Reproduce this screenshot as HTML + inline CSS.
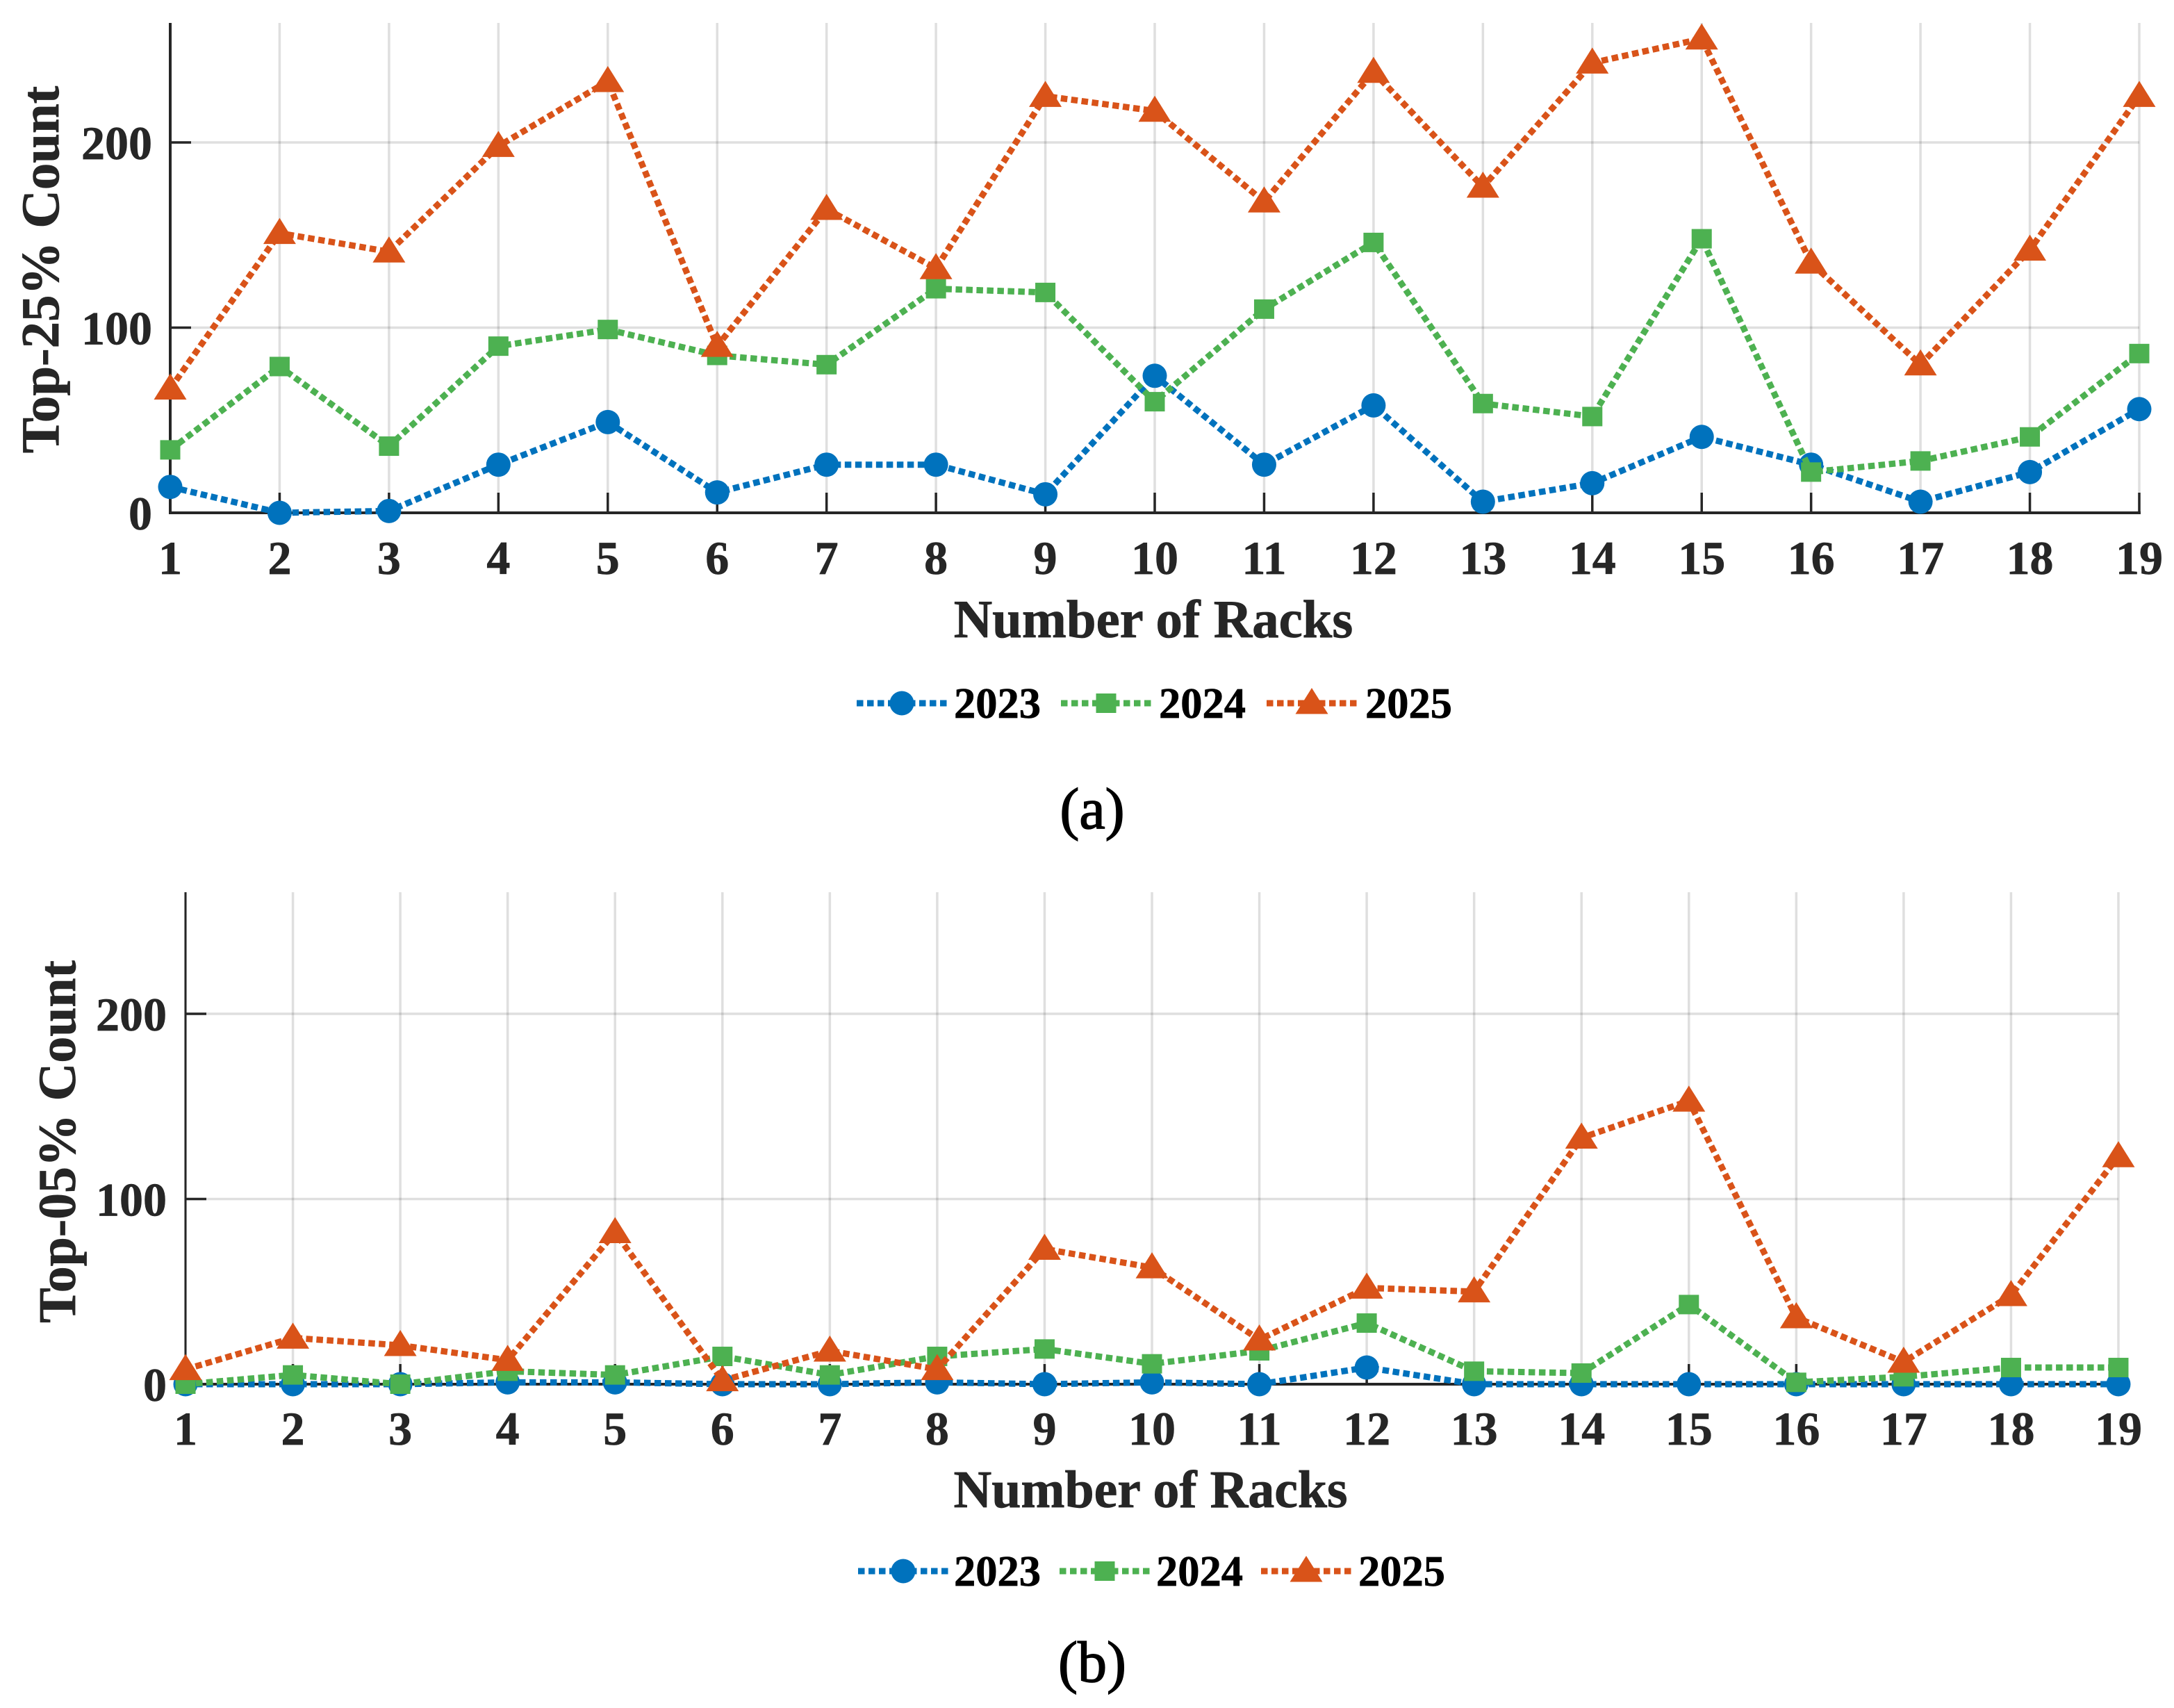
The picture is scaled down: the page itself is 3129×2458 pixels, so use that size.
<!DOCTYPE html>
<html lang="en">
<head>
<meta charset="utf-8">
<title>Top-25% and Top-05% Count by Number of Racks</title>
<style>
html,body{margin:0;padding:0;background:#fff;width:3129px;height:2458px;overflow:hidden}
svg{display:block}
text{font-family:"Liberation Serif",serif;font-weight:700;fill:#262626}
</style>
</head>
<body>
<svg id="chart" xmlns="http://www.w3.org/2000/svg" width="3129" height="2458" viewBox="0 0 3129 2458"></svg>
<script>
const categories = [1,2,3,4,5,6,7,8,9,10,11,12,13,14,15,16,17,18,19];
const yTicks = [0,100,200];
const seriesNames = ['2023','2024','2025'];

const top25Values2023 = [14,0,1,26,49,11,26,26,10,74,26,58,6,16,41,26,6,22,56];
const top25Values2024 = [34,79,36,90,99,85,80,121,119,60,110,146,59,52,148,22,28,41,86];
const top25Values2025 = [67,151,141,198,233,90,164,132,225,217,168,238,176,243,256,135,80,142,225];

const top05Values2023 = [0,0,0,1,1,0,0,1,0,1,0,9,0,0,0,0,0,0,0];
const top05Values2024 = [0,5,0,7,5,15,5,15,19,11,18,33,7,6,43,1,4,9,9];
const top05Values2025 = [8,25,21,13,82,2,18,8,73,63,24,52,50,133,153,36,12,48,123];

const colors = {'2023':'#0072BD','2024':'#4DB151','2025':'#D95319'};
const svg = document.getElementById('chart');
const NS = 'http://www.w3.org/2000/svg';

function make(parent, tag, attrs, content) {
  const el = document.createElementNS(NS, tag);
  for (const k in attrs) el.setAttribute(k, attrs[k]);
  if (content !== undefined) el.textContent = content;
  parent.appendChild(el);
  return el;
}

function drawMarker(parent, year, cx, cy, name) {
  let el;
  if (year === '2023') {
    el = make(parent, 'circle', {cx: cx, cy: cy, r: 17.5, fill: colors[year]});
  } else if (year === '2024') {
    el = make(parent, 'rect', {x: cx - 14.5, y: cy - 14, width: 29, height: 28, fill: colors[year]});
  } else {
    el = make(parent, 'polygon', {points: (cx) + ',' + (cy - 22) + ' ' + (cx + 23.5) + ',' + (cy + 15.5) + ' ' + (cx - 23.5) + ',' + (cy + 15.5), fill: colors[year]});
  }
  
  
  return el;
}

function drawPanel(cfg, seriesValues) {
  const g = make(svg, 'g', {});
  
  

  const xScale = v => cfg.x0 + (v - categories[0]) * (cfg.x1 - cfg.x0) / (categories[categories.length - 1] - categories[0]);
  const yScale = v => cfg.y0 - v * (cfg.y0 - cfg.y200) / 200;
  const yTop = cfg.top;

  categories.forEach(c => {
    const line = make(g, 'line', {x1: xScale(c), x2: xScale(c), y1: yTop, y2: cfg.y0, stroke: '#262626', 'stroke-opacity': 0.15, 'stroke-width': 3.5});
    
    
  });
  yTicks.filter(t => t > 0).forEach(t => {
    const line = make(g, 'line', {x1: cfg.x0, x2: cfg.x1, y1: yScale(t), y2: yScale(t), stroke: '#262626', 'stroke-opacity': 0.15, 'stroke-width': 3.5});
    
    
  });

  const yAxis = make(g, 'line', {x1: cfg.x0, x2: cfg.x0, y1: yTop, y2: cfg.y0 + 2, stroke: '#262626', 'stroke-width': cfg.axisWidth});
  
  
  const xAxis = make(g, 'line', {x1: cfg.x0 - 2, x2: cfg.x1 + 2, y1: cfg.y0, y2: cfg.y0, stroke: '#262626', 'stroke-width': 4});
  
  

  categories.forEach(c => {
    const tick = make(g, 'line', {x1: xScale(c), x2: xScale(c), y1: cfg.y0, y2: cfg.y0 - 29, stroke: '#262626', 'stroke-width': 3.5});
    
    
    const label = make(g, 'text', {x: xScale(c), y: cfg.xTickY, 'font-size': 68, 'text-anchor': 'middle', stroke: '#262626', 'stroke-width': 0.7}, String(c));
    
    
  });
  yTicks.forEach(t => {
    const tick = make(g, 'line', {x1: cfg.x0, x2: cfg.x0 + 30, y1: yScale(t), y2: yScale(t), stroke: '#262626', 'stroke-width': 3.5});
    
    
    const label = make(g, 'text', {x: cfg.yTickX, y: yScale(t) + 24, 'font-size': 68, 'text-anchor': 'end', stroke: '#262626', 'stroke-width': 0.7}, String(t));
    
    
  });

  seriesNames.forEach((year, i) => {
    const vals = seriesValues[i];
    const pts = vals.map((v, j) => xScale(categories[j]) + ',' + yScale(v)).join(' ');
    const sg = make(g, 'g', {});
    
    
    const line = make(sg, 'polyline', {points: pts, fill: 'none', stroke: colors[year], 'stroke-width': 9, 'stroke-dasharray': '9.5 5.5', 'stroke-linejoin': 'miter'});
    
    
    vals.forEach((v, j) => {
      drawMarker(sg, year, xScale(categories[j]), yScale(v), 'point-' + year + '-' + categories[j]);
    });
  });

  const xTitle = make(g, 'text', {x: cfg.xTitleX, y: cfg.xTitleY, 'font-size': cfg.titleSize, 'text-anchor': 'middle', stroke: '#262626', 'stroke-width': 0.8}, 'Number of Racks');
  
  

  const yTitle = make(g, 'text', {x: 0, y: 0, 'font-size': cfg.titleSize, 'text-anchor': 'middle', stroke: '#262626', 'stroke-width': 0.8, transform: 'translate(' + cfg.yTitleX + ',' + cfg.yTitleY + ') rotate(-90)'}, cfg.yTitle);
  
  

  const lg = make(g, 'g', {});
  
  
  seriesNames.forEach((year, i) => {
    const e = cfg.legend[i];
    const entry = make(lg, 'g', {});
    
    
    const ln = make(entry, 'line', {x1: e.mx - 65, x2: e.mx + 65, y1: cfg.legendY, y2: cfg.legendY, stroke: colors[year], 'stroke-width': 9, 'stroke-dasharray': '9.5 5.5'});
    
    
    drawMarker(entry, year, e.mx, cfg.legendY, 'legend-marker-' + year);
    const t = make(entry, 'text', {x: e.tx, y: cfg.legendY + 21, 'font-size': 62.5, stroke: '#000', 'stroke-width': 0.7, style: 'fill:#000'}, year);
    
    
  });

  const cap = make(g, 'text', {x: cfg.capX, y: cfg.capY, 'font-size': 84, 'text-anchor': 'middle', stroke: '#000', 'stroke-width': 1.5, style: 'font-weight:400;fill:#000'}, cfg.caption);
  
  
}

drawPanel({
  id: 'top-25', x0: 245, x1: 3079, y0: 738, y200: 205, top: 33, axisWidth: 4, titleSize: 76.8,
  xTickY: 826, yTickX: 219, xTitleX: 1660, xTitleY: 917, yTitleX: 84, yTitleY: 388,
  yTitle: 'Top-25% Count', legendY: 1012,
  legend: [{mx: 1298, tx: 1373}, {mx: 1592, tx: 1668}, {mx: 1888, tx: 1965}],
  capX: 1572, capY: 1192, caption: '(a)'
}, [top25Values2023, top25Values2024, top25Values2025]);

drawPanel({
  id: 'top-05', x0: 267, x1: 3049, y0: 1992, y200: 1459, top: 1284, axisWidth: 3, titleSize: 75.8,
  xTickY: 2079, yTickX: 240, xTitleX: 1656, xTitleY: 2169, yTitleX: 108, yTitleY: 1643,
  yTitle: 'Top-05% Count', legendY: 2261,
  legend: [{mx: 1300, tx: 1373}, {mx: 1590, tx: 1664}, {mx: 1880, tx: 1955}],
  capX: 1572, capY: 2420, caption: '(b)'
}, [top05Values2023, top05Values2024, top05Values2025]);
</script>
</body>
</html>
